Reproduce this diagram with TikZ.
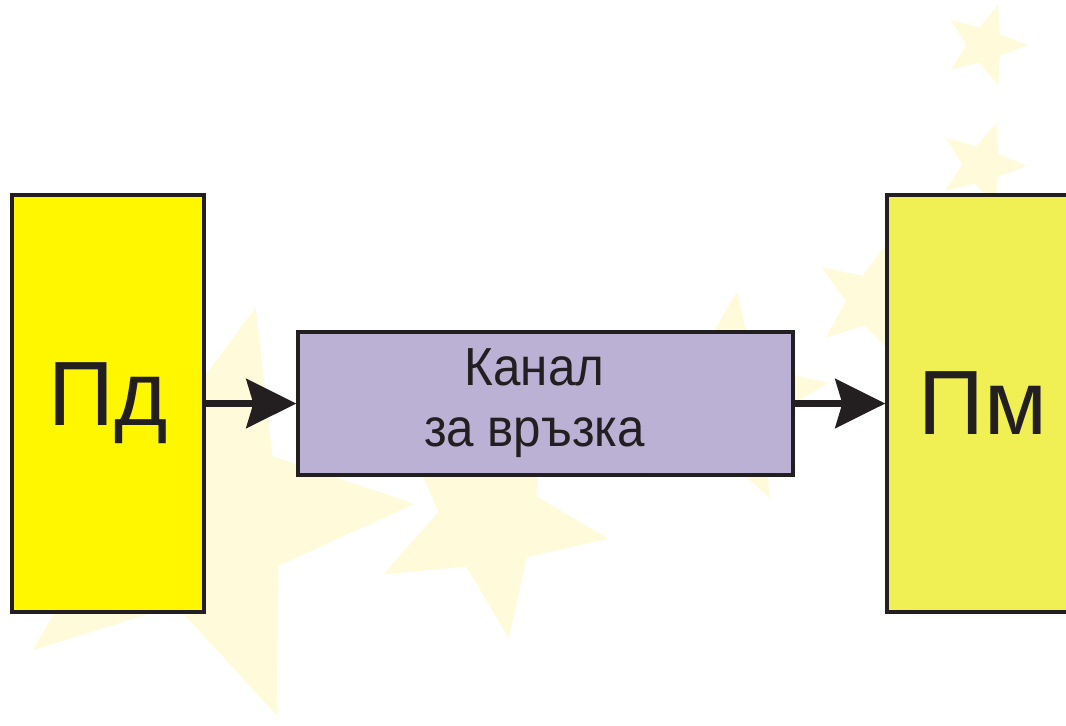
\documentclass[tikz,border=0pt]{standalone}
\usepackage{fontspec}
\setmainfont{Liberation Sans}
\newfontfamily\tesen[FakeStretch=0.92]{Liberation Sans}
\usepackage{tikz}
\usetikzlibrary{arrows.meta,shapes.geometric}

\definecolor{mastilo}{RGB}{35,31,32}
\definecolor{zhalto}{RGB}{255,247,0}
\definecolor{zhaltosvetlo}{RGB}{240,239,84}
\definecolor{lilavo}{RGB}{187,177,212}
\definecolor{zvezdi}{RGB}{255,251,218}

\tikzset{
  blok/.style={draw=mastilo, line width=1.9pt, minimum width=3.84cm, minimum height=8.34cm,
    text=mastilo, font=\fontsize{52}{52}\selectfont},
  kanalblok/.style={draw=mastilo, line width=1.9pt, fill=lilavo, minimum width=9.9cm, minimum height=2.86cm},
  kanaltekst/.style={text=mastilo, align=center, font=\tesen\fontsize{30.5}{34.7}\selectfont},
  strelka/.style={draw=mastilo, line width=4pt, -{Stealth[length=1cm, width=0.98cm, inset=0.14cm]}},
  zvezda/.style={star, star points=5, star point ratio=2.3, fill=zvezdi, draw=none, inner sep=0pt}
}

\begin{document}
\begin{tikzpicture}[x=0.02cm, y=-0.02cm]
\clip (0,0) rectangle (1066,725);

% Звезди на фона (бледи)
\foreach \x/\y/\d/\rot [count=\i] in {200/515/8.6/-15, 490/520/4.8/-27, 720/400/4.4/-9,
    872/300/2.4/-15, 982/165/1.8/-19, 985/45/1.7/-18}
  \node[zvezda, minimum size=\d cm, rotate=\rot] (zv\i) at (\x,\y) {};

% Предавател, канал, приемник
\node[blok, fill=zhalto] (pd) at (108,403.5) {Пд};
\node[kanalblok, label={[kanaltekst, name=kanalime, xshift=-0.22cm]center:Канал\\за връзка}]
  (kanal) at (545.5,403.5) {};
\node[blok, fill=zhaltosvetlo] (pm) at (983,403.5) {Пм};

% Стрелки
\draw[strelka] (pd) -- (kanal);
\draw[strelka] (kanal) -- (pm);

\end{tikzpicture}
\end{document}
